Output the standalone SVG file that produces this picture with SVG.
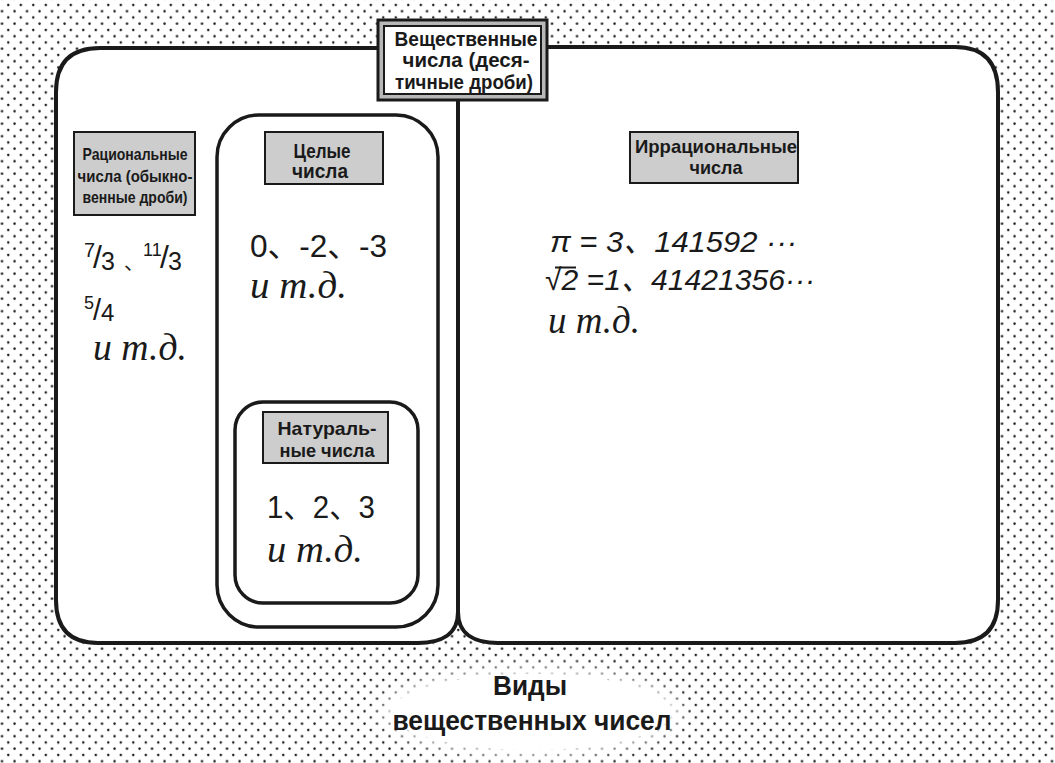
<svg xmlns="http://www.w3.org/2000/svg" width="1055" height="763" viewBox="0 0 1055 763">
<style>
.frame{fill:none;stroke:#1a1a1a;stroke-width:4;stroke-linejoin:round;stroke-linecap:round}
.box{fill:#fff;stroke:#1a1a1a;stroke-width:3.5}
.lbl{fill:#cdcdcd;stroke:#1a1a1a;stroke-width:2}
.lt{font-family:"Liberation Sans",Arial,sans-serif;font-weight:bold;fill:#1a1a1a;text-anchor:middle}
.hw{font-family:"Liberation Sans","Noto Sans CJK JP",sans-serif;fill:#1a1a1a}
.it{font-style:italic}
.etc{font-family:"Liberation Serif","Times New Roman",serif;font-style:italic;fill:#1a1a1a}
</style>
<defs>
<pattern id="dots" patternUnits="userSpaceOnUse" x="5.3" y="2" width="12.5" height="12.5">
<circle cx="3" cy="3" r="1.25" fill="#1a1a1a"/>
<circle cx="9.25" cy="9.25" r="1.25" fill="#1a1a1a"/>
</pattern>
<filter id="soft" x="-20%" y="-40%" width="140%" height="180%"><feGaussianBlur stdDeviation="8"/></filter>
</defs>
<rect width="1055" height="763" fill="#fff"/>
<rect width="1055" height="763" fill="url(#dots)"/>
<ellipse cx="532" cy="712" rx="150" ry="44" fill="#fff" filter="url(#soft)"/>
<ellipse cx="532" cy="712" rx="140" ry="38" fill="#fff"/>

<g id="real-numbers">
<path d="M56,92 Q56,48 100,48 L955,47 Q998,47 998,92 L998,600 Q998,643 955,643 L498,643 Q458,643 458,612 Q458,643 418,643 L98,643 Q56,643 56,600 Z" fill="#fff"/>
<path class="frame" d="M378,48 L100,48 Q56,48 56,92 L56,600 Q56,643 98,643 L418,643 C440,643 458,635 458,612 C458,635 476,643 498,643 L955,643 Q998,643 998,600 L998,92 Q998,47 955,47 L547,47"/>
<path class="frame" d="M458,100 L458,612"/>
<g id="title">
<rect x="378" y="20" width="169" height="80" fill="#b8b8b8" stroke="#1a1a1a" stroke-width="3"/>
<rect x="384" y="26" width="157" height="68" fill="#fff" stroke="#1a1a1a" stroke-width="2"/>
<text class="lt" font-size="20"><tspan x="466" y="46" textLength="143" lengthAdjust="spacingAndGlyphs">Вещественные</tspan><tspan x="466" y="67" textLength="127" lengthAdjust="spacingAndGlyphs">числа (деся-</tspan><tspan x="464" y="89" textLength="138" lengthAdjust="spacingAndGlyphs">тичные дроби)</tspan></text>
</g>
</g>

<g id="rational">
<rect class="lbl" x="74" y="132" width="121" height="83"/>
<text class="lt" font-size="17"><tspan x="135" y="160" textLength="105" lengthAdjust="spacingAndGlyphs">Рациональные</tspan><tspan x="135" y="182" textLength="115" lengthAdjust="spacingAndGlyphs">числа (обыкно-</tspan><tspan x="135" y="203" textLength="105" lengthAdjust="spacingAndGlyphs">венные дроби)</tspan></text>
<text class="hw"><tspan x="84" y="257" font-size="20">7</tspan><tspan x="93" y="268" font-size="32">/</tspan><tspan x="101" y="270" font-size="25">3</tspan><tspan x="124" y="270" font-size="20">、</tspan><tspan x="143" y="256" font-size="18">11</tspan><tspan x="160" y="268" font-size="32">/</tspan><tspan x="168" y="270" font-size="25">3</tspan></text>
<text class="hw"><tspan x="84" y="309" font-size="18">5</tspan><tspan x="93" y="320" font-size="29">/</tspan><tspan x="101" y="321" font-size="24">4</tspan></text>
<text class="etc" x="93" y="360" font-size="38" textLength="94" lengthAdjust="spacingAndGlyphs">и т.д.</text>
</g>

<g id="integers">
<rect class="box" x="217" y="115" width="221" height="512" rx="42"/>
<rect class="lbl" x="265" y="132" width="118" height="52"/>
<text class="lt" font-size="20"><tspan x="322" y="158" textLength="57" lengthAdjust="spacingAndGlyphs">Целые</tspan><tspan x="320" y="178" textLength="56" lengthAdjust="spacingAndGlyphs">числа</tspan></text>
<text class="hw" x="250" y="257" font-size="31" textLength="137" lengthAdjust="spacingAndGlyphs">0、-2、-3</text>
<text class="etc" x="250" y="298" font-size="37" textLength="97" lengthAdjust="spacingAndGlyphs">и т.д.</text>
</g>

<g id="natural">
<rect class="box" x="235" y="402" width="183" height="201" rx="28" stroke-width="3"/>
<rect class="lbl" x="263" y="412" width="125" height="51"/>
<text class="lt" font-size="19"><tspan x="327" y="435" textLength="99" lengthAdjust="spacingAndGlyphs">Натураль-</tspan><tspan x="327" y="457" textLength="95" lengthAdjust="spacingAndGlyphs">ные числа</tspan></text>
<text class="hw" x="267" y="518" font-size="31" textLength="108" lengthAdjust="spacingAndGlyphs">1、2、3</text>
<text class="etc" x="267" y="562" font-size="37" textLength="96" lengthAdjust="spacingAndGlyphs">и т.д.</text>
</g>

<g id="irrational">
<rect class="lbl" x="630" y="132" width="168" height="51"/>
<text class="lt" font-size="19"><tspan x="716" y="153" textLength="162" lengthAdjust="spacingAndGlyphs">Иррациональные</tspan><tspan x="716" y="174" textLength="53" lengthAdjust="spacingAndGlyphs">числа</tspan></text>
<text class="hw it" x="550" y="252" font-size="30" textLength="247" lengthAdjust="spacingAndGlyphs">π = 3、141592 ···</text>
<text class="hw it" x="545" y="290" font-size="30" textLength="270" lengthAdjust="spacingAndGlyphs">√2 =1、41421356···</text>
<line x1="555" y1="267.5" x2="576" y2="267.5" stroke="#1a1a1a" stroke-width="2"/>
<text class="etc" x="548" y="333" font-size="37" textLength="92" lengthAdjust="spacingAndGlyphs">и т.д.</text>
</g>

<g id="caption">
<text class="lt" font-size="28"><tspan x="530" y="695" textLength="74" lengthAdjust="spacingAndGlyphs">Виды</tspan><tspan x="532" y="730" textLength="279" lengthAdjust="spacingAndGlyphs">вещественных чисел</tspan></text>
</g>
<g id="connectors"/>
</svg>
